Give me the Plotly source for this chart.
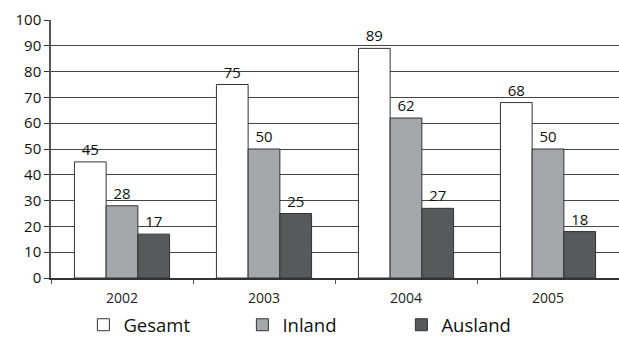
import plotly.graph_objects as go

years = ["2002", "2003", "2004", "2005"]
gesamt = [45, 75, 89, 68]
inland = [28, 50, 62, 50]
ausland = [17, 25, 27, 18]

FONT = "Open Sans"
series = [
    ("Gesamt", gesamt, "#ffffff"),
    ("Inland", inland, "#a6a7aa"),
    ("Ausland", ausland, "#58595b"),
]

fig = go.Figure()
for name, vals, col in series:
    fig.add_trace(go.Bar(
        x=years, y=vals, name=name,
        marker=dict(color=col, line=dict(color="#333333", width=1)),
        text=[str(v) for v in vals], textposition="outside",
        textfont=dict(family=FONT, size=15, color="#111111"),
        cliponaxis=False,
    ))

fig.update_layout(
    width=619, height=340,
    margin=dict(l=51, r=0, t=20, b=62, autoexpand=False),
    paper_bgcolor="white", plot_bgcolor="white",
    barmode="group", bargap=0.33, bargroupgap=0,
    font=dict(family=FONT, color="#111111"),
    showlegend=True,
    legend=dict(
        orientation="h", x=0.057, xanchor="left", y=-0.183, yanchor="middle",
        font=dict(family=FONT, size=18.5, color="#111111"),
        entrywidth=114, entrywidthmode="pixels",
        itemwidth=30, traceorder="normal", borderwidth=0,
    ),
)
fig.update_xaxes(
    type="category", tickson="boundaries", ticks="outside", ticklen=4,
    tickcolor="#555555", showline=True, linecolor="#333333", linewidth=1.5,
    showgrid=False, tickfont=dict(family=FONT, size=14, color="#222222"),
    ticklabelstandoff=6,
)
fig.update_yaxes(
    range=[0, 100], dtick=10, ticks="outside", ticklen=5, tickcolor="#333333",
    showline=True, linecolor="#555555", linewidth=1.5,
    showgrid=True, gridcolor="#444444", gridwidth=1,
    tickfont=dict(family=FONT, size=15, color="#111111"),
    zeroline=False,
)

fig.write_html("out.html")
